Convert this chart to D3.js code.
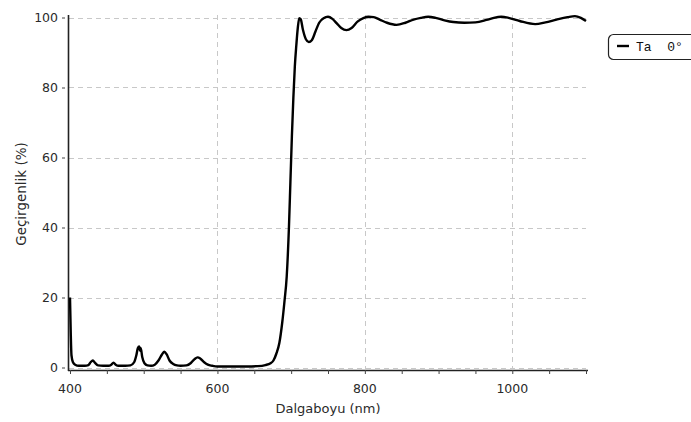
<!DOCTYPE html>
<html>
<head>
<meta charset="utf-8">
<script src="https://cdn.jsdelivr.net/npm/d3@7"></script>
<style>
  html, body { margin: 0; padding: 0; background: #fff; }
  svg { display: block; }
  text { font-family: "DejaVu Sans", Verdana, sans-serif; fill: #2a2a2a; }
  text.mono { font-family: "Liberation Mono", "Courier New", monospace; fill: #111; white-space: pre; }
</style>
</head>
<body>
<svg id="chart" width="691" height="422"></svg>
<script>
// Transmittance spectrum (wavelength in nm, transmittance in %)
const wavelength = [
  400, 401, 402, 404, 407, 412, 420, 425, 428, 431, 434, 438, 445, 452, 456, 459,
  462, 466, 475, 482, 487, 490, 492, 494, 495, 496, 498, 501, 505, 510, 515, 520,
  525, 528, 531, 535, 540, 545, 550, 558, 564, 569, 573, 577, 582, 587, 593, 600,
  620, 640, 655, 665, 672, 676, 680, 684, 688, 691, 694, 697, 699, 701, 703, 705,
  707, 709, 711, 713, 716, 720, 724, 728, 733, 738, 744, 750, 756, 762, 768, 775,
  782, 790, 798, 805, 812, 820, 830, 843, 855, 866, 876, 886, 896, 908, 920, 935,
  950, 965, 975, 985, 995, 1010, 1031, 1045, 1060, 1075, 1085, 1093, 1100
];
const transmittance = [
  20, 10, 3.5, 1.5, 0.8, 0.5, 0.5, 0.7, 1.5, 2.0, 1.3, 0.6, 0.5, 0.5, 0.8, 1.4,
  0.8, 0.5, 0.5, 0.6, 1.5, 3.5, 5.5, 6.0, 4.8, 5.5, 3.0, 1.2, 0.6, 0.5, 0.8, 2.0,
  3.8, 4.5, 3.8, 2.0, 1.0, 0.6, 0.5, 0.6, 1.3, 2.4, 2.9, 2.5, 1.5, 0.8, 0.5, 0.3,
  0.3, 0.3, 0.4, 0.7, 1.2, 2.0, 4, 7, 13, 19, 26, 40, 53, 66, 77, 86,
  92, 97, 99.8, 99.5, 96.5, 93.8, 93, 93.5, 96, 98.5, 99.8, 100.2, 99.6, 98.3, 97, 96.4,
  97, 98.8, 99.8, 100.2, 100.1, 99.4, 98.5, 97.9, 98.5, 99.4, 99.9, 100.2, 99.9, 99.2, 98.7, 98.5,
  98.6, 99.3, 99.9, 100.2, 99.9, 99.0, 98.1, 98.6, 99.4, 100.1, 100.4, 99.9, 99.0
];
const xTicks = [400, 600, 800, 1000];
const yTicks = [0, 20, 40, 60, 80, 100];
const seriesName = "Ta  0°";
const xTitle = "Dalgaboyu (nm)";
const yTitle = "Geçirgenlik (%)";

const svg = d3.select("#chart");

const x = d3.scaleLinear().domain([400, 1100]).range([70, 586]);
const y = d3.scaleLinear().domain([0, 100]).range([367.5, 17.5]);

const axisX = 370;  // vertical position of the x-axis line
const axisY = 68;   // horizontal position of the y-axis line

// Dashed grid at the major ticks
const grid = svg.append("g").attr("stroke", "#c8c8c8").attr("stroke-width", 1)
  .attr("stroke-dasharray", "5,4");
grid.selectAll("line.h").data(yTicks).join("line")
  .attr("x1", axisY + 1).attr("x2", 586)
  .attr("y1", d => Math.round(y(d)) + 0.5).attr("y2", d => Math.round(y(d)) + 0.5);
grid.selectAll("line.v").data(xTicks.filter(d => d > 400)).join("line")
  .attr("y1", 15).attr("y2", axisX - 1)
  .attr("x1", d => Math.round(x(d)) + 0.5).attr("x2", d => Math.round(x(d)) + 0.5);

// X axis
const gx = svg.append("g").attr("transform", `translate(0,${axisX})`);
gx.call(d3.axisBottom(x).tickValues(d3.range(400, 1101, 50)).tickSize(4).tickFormat(""));
gx.call(g => g.select(".domain").attr("d", `M${axisY},0.5H588`).attr("stroke", "#222").attr("stroke-width", 1.6));
gx.selectAll(".tick line").attr("stroke", "#444");
gx.selectAll("text.lbl").data(xTicks).join("text")
  .attr("class", "lbl")
  .attr("x", d => x(d)).attr("y", 23)
  .attr("text-anchor", "middle").attr("font-size", 12.5).text(d => d);

// Y axis
const gy = svg.append("g").attr("transform", `translate(${axisY},0)`);
gy.call(d3.axisLeft(y).tickValues(d3.range(0, 101, 5)).tickSize(3).tickFormat(""));
gy.call(g => g.select(".domain").attr("d", `M0.5,15V${axisX + 1}`).attr("stroke", "#222").attr("stroke-width", 1.6));
gy.selectAll(".tick line").attr("stroke", "#444")
  .attr("x1", d => (d % 20 === 0 ? -6 : -3));
gy.selectAll("text.lbl").data(yTicks).join("text")
  .attr("class", "lbl")
  .attr("x", -10).attr("y", d => y(d)).attr("dy", "0.36em")
  .attr("text-anchor", "end").attr("font-size", 12.5).text(d => d);

// Axis titles
svg.append("text").attr("x", 328).attr("y", 413)
  .attr("text-anchor", "middle").attr("font-size", 13).text(xTitle);
svg.append("text")
  .attr("transform", "translate(26,194) rotate(-90)")
  .attr("text-anchor", "middle").attr("font-size", 13.5).text(yTitle);

// Spectrum line
const pts = wavelength.map((w, i) => [w, transmittance[i]]);
svg.append("path")
  .datum(pts)
  .attr("fill", "none").attr("stroke", "#000").attr("stroke-width", 2.4)
  .attr("stroke-linejoin", "round")
  .attr("d", d3.line().x(d => x(d[0])).y(d => y(d[1])).curve(d3.curveMonotoneX));

// Legend
const lg = svg.append("g");
lg.append("rect").attr("x", 608.5).attr("y", 34.5).attr("width", 100).attr("height", 25)
  .attr("rx", 5).attr("fill", "#fff").attr("stroke", "#222").attr("stroke-width", 1.2);
lg.append("line").attr("x1", 617).attr("x2", 629).attr("y1", 46).attr("y2", 46)
  .attr("stroke", "#000").attr("stroke-width", 2.4);
lg.append("text").attr("class", "mono").attr("x", 636).attr("y", 50.5)
  .attr("font-size", 13).text(seriesName);
</script>
</body>
</html>
